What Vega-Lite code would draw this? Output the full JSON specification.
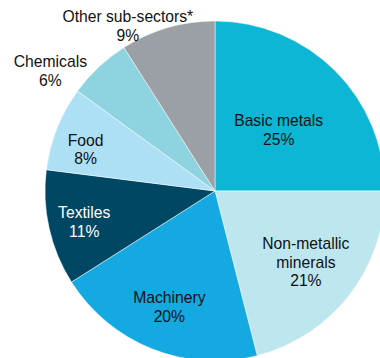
{
  "$schema": "https://vega.github.io/schema/vega-lite/v6.json",
  "width": 430,
  "height": 382,
  "autosize": {"type": "none"},
  "padding": 0,
  "background": "white",
  "view": {"stroke": null},
  "data": {
    "values": [
      {"rank": 1, "sector": "Basic metals", "share": 25, "label": "Basic metals\n25%"},
      {"rank": 2, "sector": "Non-metallic minerals", "share": 21, "label": "Non-metallic\nminerals\n21%"},
      {"rank": 3, "sector": "Machinery", "share": 20, "label": "Machinery\n20%"},
      {"rank": 4, "sector": "Textiles", "share": 11, "label": "Textiles\n11%"},
      {"rank": 5, "sector": "Food", "share": 8, "label": "Food\n8%"},
      {"rank": 6, "sector": "Chemicals", "share": 6, "label": "Chemicals\n6%"},
      {"rank": 7, "sector": "Other sub-sectors*", "share": 9, "label": "Other sub-sectors*\n9%"}
    ]
  },
  "encoding": {
    "theta": {"field": "share", "type": "quantitative", "stack": true},
    "order": {"field": "rank", "type": "quantitative"}
  },
  "layer": [
    {
      "mark": {"type": "arc", "outerRadius": 170, "stroke": "white", "strokeWidth": 0.5},
      "encoding": {
        "color": {
          "field": "sector",
          "type": "nominal",
          "legend": null,
          "scale": {
            "domain": ["Basic metals", "Non-metallic minerals", "Machinery", "Textiles", "Food", "Chemicals", "Other sub-sectors*"],
            "range": ["#0db6d5", "#bde6ef", "#14a9e1", "#004764", "#ade0f4", "#8dd4e0", "#9aa0a6"]
          }
        }
      }
    },
    {
      "mark": {"type": "text", "radius": 90, "dy": -6, "font": "Liberation Sans", "fontSize": 15.7, "lineHeight": 18.5, "lineBreak": "\n", "color": "#111111"},
      "encoding": {"text": {"condition": {"test": "datum.sector === 'Basic metals'", "field": "label"}, "value": ""}}
    },
    {
      "mark": {"type": "text", "radius": 115, "dy": -17, "font": "Liberation Sans", "fontSize": 15.7, "lineHeight": 18.5, "lineBreak": "\n", "color": "#111111"},
      "encoding": {"text": {"condition": {"test": "datum.sector === 'Non-metallic minerals'", "field": "label"}, "value": ""}}
    },
    {
      "mark": {"type": "text", "radius": 124, "dy": -8, "font": "Liberation Sans", "fontSize": 15.7, "lineHeight": 18.5, "lineBreak": "\n", "color": "#111111"},
      "encoding": {"text": {"condition": {"test": "datum.sector === 'Machinery'", "field": "label"}, "value": ""}}
    },
    {
      "mark": {"type": "text", "radius": 134, "dy": -7, "font": "Liberation Sans", "fontSize": 15.7, "lineHeight": 18.5, "lineBreak": "\n", "color": "#ffffff"},
      "encoding": {"text": {"condition": {"test": "datum.sector === 'Textiles'", "field": "label"}, "value": ""}}
    },
    {
      "mark": {"type": "text", "radius": 137, "dx": -2, "dy": 0, "font": "Liberation Sans", "fontSize": 15.7, "lineHeight": 18.5, "lineBreak": "\n", "color": "#111111"},
      "encoding": {"text": {"condition": {"test": "datum.sector === 'Food'", "field": "label"}, "value": ""}}
    },
    {
      "mark": {"type": "text", "radius": 204, "dx": -25, "dy": 20, "font": "Liberation Sans", "fontSize": 15.7, "lineHeight": 18.5, "lineBreak": "\n", "color": "#111111"},
      "encoding": {"text": {"condition": {"test": "datum.sector === 'Chemicals'", "field": "label"}, "value": ""}}
    },
    {
      "mark": {"type": "text", "radius": 187, "dx": -35, "dy": 6, "font": "Liberation Sans", "fontSize": 15.7, "lineHeight": 18.5, "lineBreak": "\n", "color": "#111111"},
      "encoding": {"text": {"condition": {"test": "datum.sector === 'Other sub-sectors*'", "field": "label"}, "value": ""}}
    }
  ]
}
